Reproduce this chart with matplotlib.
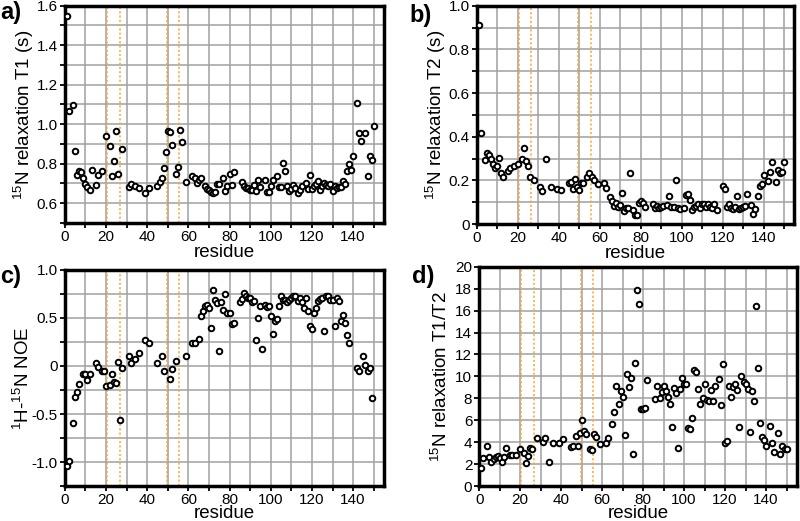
import matplotlib
matplotlib.use("Agg")
import matplotlib.pyplot as plt
from matplotlib.ticker import MultipleLocator, FuncFormatter

plt.rcParams['font.family'] = ['Liberation Sans', 'DejaVu Sans']
plt.rcParams['mathtext.fontset'] = 'custom'
plt.rcParams['mathtext.rm'] = 'Liberation Sans'
plt.rcParams['mathtext.default'] = 'regular'

# residuos de los bordes de dominio (lineas naranjas)
limites = [20.6, 26.6, 49.6, 55.6]

# a) T1
res_t1 = [1, 2, 4, 5, 6, 7, 8, 9, 10, 11,
          12, 13, 15, 16, 18, 20, 22, 23, 24, 25,
          26, 28, 31, 32, 34, 36, 39, 41, 45, 46,
          47, 48, 49, 50, 51, 52, 54, 55, 56, 57,
          59, 62, 63, 64, 65, 66, 68, 69, 70, 71,
          72, 73, 74, 75, 77, 78, 79, 80, 81, 82,
          86, 87, 88, 89, 90, 91, 92, 93, 94, 95,
          97, 98, 99, 100, 101, 103, 104, 105, 106, 107,
          108, 109, 110, 111, 112, 113, 114, 115, 117, 118,
          119, 120, 121, 122, 123, 124, 125, 126, 127, 128,
          129, 130, 131, 132, 133, 134, 135, 136, 137, 138,
          139, 140, 142, 143, 144, 146, 147, 148, 149, 150]
t1 = [1.55, 1.066, 1.095, 0.866, 0.744, 0.761, 0.756, 0.727, 0.697, 0.683,
      0.666, 0.77, 0.693, 0.744, 0.764, 0.942, 0.891, 0.739, 0.815, 0.967,
      0.747, 0.875, 0.68, 0.697, 0.688, 0.676, 0.651, 0.676, 0.685, 0.705,
      0.727, 0.776, 0.858, 0.964, 0.961, 0.893, 0.747, 0.786, 0.973, 0.908,
      0.71, 0.736, 0.73, 0.702, 0.719, 0.73, 0.686, 0.673, 0.665, 0.656,
      0.651, 0.657, 0.697, 0.698, 0.727, 0.664, 0.688, 0.749, 0.693, 0.759,
      0.705, 0.685, 0.676, 0.676, 0.668, 0.668, 0.693, 0.663, 0.719, 0.68,
      0.719, 0.658, 0.659, 0.685, 0.717, 0.736, 0.681, 0.681, 0.803, 0.761,
      0.688, 0.663, 0.671, 0.693, 0.675, 0.654, 0.668, 0.685, 0.702, 0.671,
      0.741, 0.671, 0.685, 0.697, 0.715, 0.668, 0.688, 0.702, 0.693, 0.685,
      0.698, 0.664, 0.685, 0.676, 0.681, 0.68, 0.713, 0.697, 0.761, 0.798,
      0.769, 0.837, 1.105, 0.956, 0.915, 0.956, 0.739, 0.84, 0.82, 0.993]

# b) T2
res_t2 = [1, 2, 4, 5, 6, 7, 8, 9, 10, 11,
          12, 13, 15, 16, 18, 20, 22, 23, 24, 25,
          26, 28, 31, 32, 34, 36, 39, 41, 45, 46,
          47, 48, 49, 50, 51, 52, 54, 55, 56, 57,
          59, 62, 63, 65, 66, 67, 68, 69, 70, 71,
          72, 73, 74, 75, 76, 77, 78, 79, 80, 81,
          82, 86, 87, 88, 89, 90, 91, 93, 94, 95,
          96, 97, 98, 99, 101, 102, 103, 104, 105, 106,
          107, 108, 109, 110, 111, 112, 113, 114, 115, 116,
          117, 120, 121, 122, 123, 124, 125, 126, 127, 128,
          129, 130, 131, 132, 134, 135, 136, 137, 138, 139,
          140, 142, 143, 144, 146, 147, 148, 149, 150]
t2 = [0.91, 0.418, 0.293, 0.327, 0.316, 0.298, 0.273, 0.258, 0.267, 0.301,
      0.235, 0.217, 0.244, 0.258, 0.267, 0.273, 0.298, 0.347, 0.289, 0.267,
      0.214, 0.202, 0.168, 0.153, 0.298, 0.171, 0.160, 0.156, 0.186, 0.194,
      0.159, 0.205, 0.171, 0.156, 0.189, 0.189, 0.217, 0.235, 0.214, 0.202,
      0.183, 0.186, 0.163, 0.122, 0.105, 0.084, 0.095, 0.079, 0.087, 0.140,
      0.061, 0.072, 0.072, 0.232, 0.064, 0.041, 0.041, 0.098, 0.105, 0.095,
      0.079, 0.092, 0.072, 0.082, 0.072, 0.076, 0.082, 0.087, 0.130, 0.079,
      0.079, 0.202, 0.072, 0.067, 0.075, 0.133, 0.137, 0.110, 0.064, 0.076,
      0.082, 0.092, 0.072, 0.092, 0.092, 0.079, 0.092, 0.079, 0.072, 0.092,
      0.064, 0.176, 0.160, 0.076, 0.092, 0.072, 0.067, 0.079, 0.130, 0.067,
      0.072, 0.079, 0.082, 0.136, 0.087, 0.046, 0.067, 0.130, 0.176, 0.183,
      0.224, 0.198, 0.237, 0.285, 0.194, 0.247, 0.232, 0.240, 0.285]

# c) NOE
res_noe = [1, 2, 4, 5, 6, 7, 9, 10, 11, 12,
           15, 16, 18, 19, 20, 22, 23, 24, 25, 26,
           27, 28, 31, 32, 34, 36, 39, 41, 45, 47,
           48, 51, 52, 54, 59, 62, 63, 65, 66, 67,
           68, 69, 70, 71, 72, 73, 74, 75, 76, 77,
           78, 79, 80, 81, 82, 85, 86, 87, 88, 89,
           90, 91, 92, 93, 94, 95, 96, 97, 98, 99,
           100, 101, 102, 103, 104, 105, 106, 107, 108, 109,
           110, 111, 112, 113, 114, 115, 116, 117, 118, 119,
           120, 121, 122, 123, 124, 125, 126, 127, 128, 129,
           130, 131, 132, 133, 134, 135, 136, 137, 138, 142,
           143, 145, 146, 147, 148, 149]
noe = [-1.038, -0.986, -0.594, -0.328, -0.272, -0.189, -0.081, -0.081, -0.151, -0.085,
       0.029, -0.012, -0.050, -0.057, -0.213, -0.199, -0.088, -0.168, -0.182, 0.040,
       -0.567, -0.026, 0.106, 0.033, 0.075, 0.133, 0.272, 0.244, 0.029, 0.106,
       -0.050, -0.137, -0.033, 0.050, 0.106, 0.238, 0.238, 0.279, 0.515, 0.567,
       0.629, 0.636, 0.608, 0.390, 0.792, 0.688, 0.653, 0.161, 0.664, 0.584,
       0.747, 0.549, 0.556, 0.432, 0.445, 0.664, 0.698, 0.757, 0.723, 0.712,
       0.705, 0.664, 0.681, 0.272, 0.504, 0.619, 0.179, 0.636, 0.612, 0.619,
       0.515, 0.331, 0.463, 0.490, 0.619, 0.723, 0.688, 0.688, 0.664, 0.688,
       0.712, 0.723, 0.723, 0.681, 0.712, 0.664, 0.601, 0.705, 0.574, 0.418,
       0.383, 0.549, 0.608, 0.671, 0.698, 0.705, 0.359, 0.723, 0.723, 0.688,
       0.688, 0.418, 0.712, 0.671, 0.470, 0.532, 0.452, 0.321, 0.237, -0.016,
       -0.057, 0.106, 0.012, -0.057, -0.022, -0.334]

# d) T1/T2
res_ratio = [1, 2, 4, 5, 6, 7, 8, 9, 10, 11,
             12, 13, 15, 16, 18, 20, 22, 23, 24, 25,
             26, 28, 31, 32, 34, 36, 39, 41, 45, 46,
             47, 48, 49, 50, 51, 52, 54, 55, 56, 57,
             59, 62, 63, 65, 66, 67, 68, 69, 70, 71,
             72, 73, 74, 75, 76, 77, 78, 79, 80, 81,
             82, 86, 87, 88, 89, 90, 91, 92, 93, 94,
             95, 96, 97, 98, 99, 100, 101, 102, 103, 104,
             105, 106, 107, 108, 109, 110, 111, 112, 113, 114,
             115, 117, 118, 119, 120, 121, 122, 123, 124, 125,
             126, 127, 128, 129, 130, 131, 132, 133, 134, 135,
             136, 137, 138, 139, 140, 142, 143, 144, 146, 147,
             148, 149, 150]
ratio = [1.65, 2.55, 3.68, 2.61, 2.22, 2.46, 2.61, 2.74, 2.52, 2.22,
         2.67, 3.50, 2.83, 2.83, 2.83, 3.37, 2.98, 2.07, 2.74, 3.50,
         3.37, 4.35, 3.98, 4.41, 2.22, 3.89, 3.95, 4.29, 3.59, 3.65,
         4.56, 3.68, 4.86, 6.02, 5.02, 4.71, 3.34, 3.28, 4.71, 4.50,
         3.83, 3.89, 4.35, 5.62, 6.72, 9.12, 7.48, 8.66, 8.15, 4.65,
         10.21, 9.00, 9.82, 2.92, 11.19, 17.87, 16.57, 7.02, 7.02, 7.14,
         9.67, 7.93, 9.15, 7.99, 8.60, 9.12, 8.69, 8.15, 7.48, 5.35,
         8.97, 8.45, 3.43, 8.81, 9.85, 9.30, 9.30, 5.26, 5.17, 6.23,
         10.58, 10.43, 8.84, 7.51, 7.99, 9.30, 7.84, 7.78, 8.75, 7.75,
         9.12, 9.76, 7.42, 11.12, 3.89, 4.13, 9.15, 8.09, 9.00, 9.27,
         8.75, 5.35, 10.06, 9.45, 9.27, 8.81, 4.89, 8.66, 7.75, 16.44,
         10.73, 5.71, 4.44, 4.19, 3.65, 5.47, 3.95, 3.13, 4.80, 2.92,
         3.68, 3.37, 3.37]


def etiqueta(v, pos):
    if abs(v) < 1e-9:
        return '0'
    if abs(v - round(v)) < 1e-9 and abs(v) >= 2:
        return '%d' % round(v)
    return '%.1f' % v


def panel(ax, res, vals, ylim, mayor, menor, ylabel, labx, laby):
    ax.set_axisbelow(True)
    ax.grid(which='both', color='#a0a0a0', lw=1.1)
    for x in limites:
        ax.axvline(x, color='#f8a838', lw=1.1, ls=(0, (1.4, 1.4)), zorder=1.5)
    ax.plot(res, vals, 'o', ms=4.0, mfc='white', mec='black', mew=1.4, zorder=3)
    ax.set_xlim(0, 155)
    ax.set_ylim(*ylim)
    ax.xaxis.set_major_locator(MultipleLocator(20))
    ax.xaxis.set_minor_locator(MultipleLocator(10))
    ax.yaxis.set_major_locator(MultipleLocator(mayor))
    ax.yaxis.set_minor_locator(MultipleLocator(menor))
    ax.yaxis.set_major_formatter(FuncFormatter(etiqueta))
    ax.tick_params(which='both', direction='out', length=3.5, width=1.3,
                   labelsize=11, color='black', pad=1.5)
    for s in ax.spines.values():
        s.set_linewidth(2.5)
    ax.set_ylabel(ylabel, fontsize=13.5)
    ax.yaxis.set_label_coords(labx, 0.5)
    ax.set_xlabel('residue', fontsize=13.5)
    ax.xaxis.set_label_coords(0.5, laby)


fig = plt.figure(figsize=(8, 5.21), dpi=100)

ax_a = fig.add_axes([0.081, 0.572, 0.399, 0.417])
panel(ax_a, res_t1, t1, (0.5, 1.6), 0.2, 0.1,
      '$^{15}$N relaxation T1 (s)', -0.09, -0.095)

ax_b = fig.add_axes([0.596, 0.570, 0.397, 0.419])
panel(ax_b, res_t2, t2, (0, 1.0), 0.2, 0.1,
      '$^{15}$N relaxation T2 (s)', -0.09, -0.095)

ax_c = fig.add_axes([0.081, 0.067, 0.399, 0.415])
panel(ax_c, res_noe, noe, (-1.25, 1.0), 0.5, 0.25,
      '$^{1}$H-$^{15}$N NOE', -0.10, -0.087)

ax_d = fig.add_axes([0.599, 0.067, 0.397, 0.421])
panel(ax_d, res_ratio, ratio, (0, 20), 2, 2,
      '$^{15}$N relaxation T1/T2', -0.09, -0.087)

# letras de los paneles
fig.text(0.0, 0.998, 'a)', fontsize=17, weight='bold', va='top')
fig.text(0.512, 0.993, 'b)', fontsize=17, weight='bold', va='top')
fig.text(0.0, 0.492, 'c)', fontsize=17, weight='bold', va='top')
fig.text(0.515, 0.492, 'd)', fontsize=17, weight='bold', va='top')

fig.savefig('out.png', dpi=100)
